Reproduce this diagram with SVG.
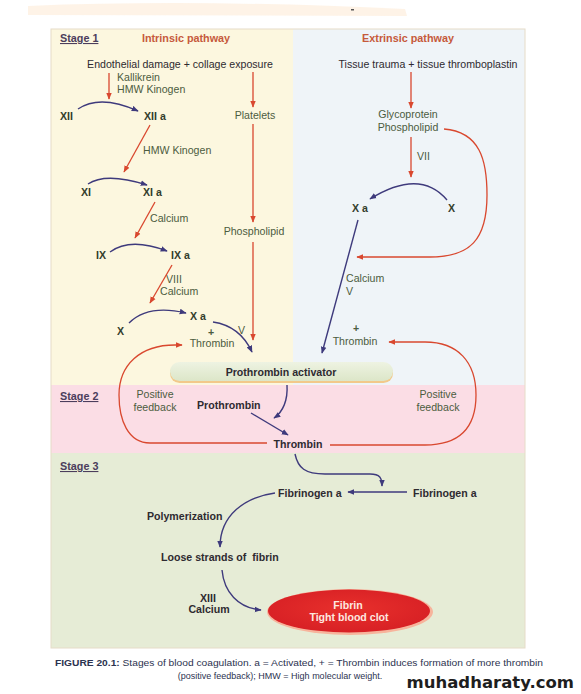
<svg xmlns="http://www.w3.org/2000/svg" width="581" height="694" viewBox="0 0 581 694">
<style>
text{font-family:"Liberation Sans",Arial,sans-serif;font-size:10.6px;fill:#3a3a3a}
.b{font-weight:bold}
.stage{font-weight:bold;font-size:10.8px;fill:#4b3d5c;text-decoration:underline}
.title{font-weight:bold;font-size:10.8px;fill:#c65a3c}
.g{fill:#4c5c40}
.gb{fill:#333d2c;font-weight:bold}
.dk{fill:#2e2a30}
.m{text-anchor:middle}
.red{fill:none;stroke:#d9482f;stroke-width:1.3}
.blue{fill:none;stroke:#3e3a7c;stroke-width:1.4}
.cap{font-size:9px;fill:#2c3350}
</style>
<defs>
<marker id="ar" viewBox="0 0 10 10" refX="9" refY="5" markerWidth="7" markerHeight="7" orient="auto" markerUnits="userSpaceOnUse"><path d="M0,1 L10,5 L0,9 z" fill="#d9482f"/></marker>
<marker id="ab" viewBox="0 0 10 10" refX="9" refY="5" markerWidth="7" markerHeight="7" orient="auto" markerUnits="userSpaceOnUse"><path d="M0,1 L10,5 L0,9 z" fill="#3e3a7c"/></marker>
<linearGradient id="pill" x1="0" y1="0" x2="0" y2="1"><stop offset="0" stop-color="#eef3e2"/><stop offset="1" stop-color="#dce6c8"/></linearGradient>
<radialGradient id="clot" cx="0.5" cy="0.45" r="0.6"><stop offset="0" stop-color="#e8302c"/><stop offset="1" stop-color="#d61f24"/></radialGradient>
</defs>

<g id="background">
<path d="M28,6 Q200,-1 405,9 L407,16 L28,15 Z" fill="#fdeedd" opacity="0.7"/>
<rect x="351" y="9" width="3" height="1.5" fill="#555"/>
<rect x="51" y="29" width="242" height="356" fill="#fcf7df"/>
<rect x="293" y="29" width="232" height="356" fill="#eff4f8"/>
<rect x="51" y="385" width="474" height="68" fill="#fbdde5"/>
<rect x="51" y="453" width="474" height="195" fill="#e6ecd6"/>
<rect x="51" y="29" width="474" height="619" fill="none" stroke="#e6dcc8" stroke-width="1"/>
</g>

<g id="labels">
<text x="60" y="42" class="stage">Stage 1</text>
<text x="186" y="42" class="title m">Intrinsic pathway</text>
<text x="408" y="42" class="title m">Extrinsic pathway</text>
<text x="60" y="400" class="stage">Stage 2</text>
<text x="60" y="470" class="stage">Stage 3</text>
</g>

<g id="n-endothelial"><text x="180" y="68" class="dk m">Endothelial damage + collage exposure</text></g>
<g id="n-kallikrein"><text x="117" y="81" class="g">Kallikrein</text><text x="117" y="93" class="g">HMW Kinogen</text></g>
<g id="n-xii"><text x="60" y="120" class="gb">XII</text></g>
<g id="n-xiia"><text x="144" y="120" class="gb">XII a</text></g>
<g id="n-platelets"><text x="255" y="119" class="g m">Platelets</text></g>
<g id="n-hmw2"><text x="143" y="154" class="g">HMW Kinogen</text></g>
<g id="n-xi"><text x="81" y="196" class="gb">XI</text></g>
<g id="n-xia"><text x="143" y="196" class="gb">XI a</text></g>
<g id="n-calcium1"><text x="150" y="222" class="g">Calcium</text></g>
<g id="n-phospholipid1"><text x="254" y="235" class="g m">Phospholipid</text></g>
<g id="n-ix"><text x="96" y="259" class="gb">IX</text></g>
<g id="n-ixa"><text x="171" y="259" class="gb">IX a</text></g>
<g id="n-viii"><text x="166" y="283" class="g">VIII</text><text x="160" y="295" class="g">Calcium</text></g>
<g id="n-x1"><text x="117" y="335" class="gb">X</text></g>
<g id="n-xa1"><text x="190" y="320" class="gb">X a</text></g>
<g id="n-v1"><text x="238" y="334" class="g">V</text></g>
<g id="n-thrombin1"><text x="211" y="336" class="g m b">+</text><text x="212" y="347" class="g m">Thrombin</text></g>

<g id="n-tissue"><text x="428" y="68" class="dk m">Tissue trauma + tissue thromboplastin</text></g>
<g id="n-glyco"><text x="408" y="118" class="g m">Glycoprotein</text><text x="408" y="131" class="g m">Phospholipid</text></g>
<g id="n-vii"><text x="417" y="160" class="g">VII</text></g>
<g id="n-xa2"><text x="352" y="212" class="gb">X a</text></g>
<g id="n-x2"><text x="448" y="212" class="gb">X</text></g>
<g id="n-calcium-v"><text x="346" y="282" class="g">Calcium</text><text x="346" y="295" class="g">V</text></g>
<g id="n-thrombin2"><text x="356" y="332" class="g m b">+</text><text x="355" y="345" class="g m">Thrombin</text></g>

<g id="n-activator">
<rect x="170" y="364" width="223" height="19" rx="9.5" fill="#f2c98a"/>
<rect x="170" y="362" width="223" height="19" rx="9.5" fill="url(#pill)"/>
<text x="281" y="376" class="b dk m">Prothrombin activator</text>
</g>

<g id="n-feedback-left"><text x="155" y="398" class="g m">Positive</text><text x="155" y="411" class="g m">feedback</text></g>
<g id="n-feedback-right"><text x="438" y="398" class="g m">Positive</text><text x="438" y="411" class="g m">feedback</text></g>
<g id="n-prothrombin"><text x="197" y="409" class="b dk">Prothrombin</text></g>
<g id="n-thrombin3"><text x="298" y="448" class="b dk m">Thrombin</text></g>

<g id="n-fibrinogen-left"><text x="278" y="497" class="b dk">Fibrinogen a</text></g>
<g id="n-fibrinogen-right"><text x="413" y="497" class="b dk">Fibrinogen a</text></g>
<g id="n-polymerization"><text x="147" y="520" class="b dk">Polymerization</text></g>
<g id="n-loose"><text x="161" y="561" class="b dk" xml:space="preserve">Loose strands of  fibrin</text></g>
<g id="n-xiii"><text x="208" y="602" class="b dk m">XIII</text><text x="209" y="613" class="b dk m">Calcium</text></g>
<g id="n-fibrin">
<ellipse cx="350" cy="612" rx="83" ry="23" fill="#f7b49c"/>
<ellipse cx="349" cy="611" rx="81" ry="21.5" fill="url(#clot)"/>
<text x="348" y="609" class="b m" style="fill:#fde8e0">Fibrin</text>
<text x="349" y="621" class="b m" style="fill:#fde8e0">Tight blood clot</text>
</g>

<g id="connectors">
<line x1="109" y1="73" x2="109" y2="99" class="red" marker-end="url(#ar)"/>
<path d="M78,109 Q100,94 138,111" class="blue" marker-end="url(#ab)"/>
<line x1="253" y1="72" x2="253" y2="107" class="red" marker-end="url(#ar)"/>
<line x1="253" y1="124" x2="253" y2="222" class="red" marker-end="url(#ar)"/>
<line x1="253" y1="242" x2="253" y2="340" class="red" marker-end="url(#ar)"/>
<line x1="150" y1="125" x2="124" y2="172" class="red" marker-end="url(#ar)"/>
<path d="M88,184 Q106,172 147,185" class="blue" marker-end="url(#ab)"/>
<line x1="155" y1="202" x2="135" y2="238" class="red" marker-end="url(#ar)"/>
<path d="M110,252 Q130,237 167,251" class="blue" marker-end="url(#ab)"/>
<line x1="172" y1="265" x2="150" y2="303" class="red" marker-end="url(#ar)"/>
<path d="M129,323 Q148,304 186,313" class="blue" marker-end="url(#ab)"/>
<path d="M213,322 Q240,326 252,352" class="blue" marker-end="url(#ab)"/>
<path d="M267,443 L150,443 C128,443 119,420 119,395 C119,365 140,345 175,345 L182,345" class="red" marker-end="url(#ar)"/>

<line x1="411" y1="72" x2="411" y2="108" class="red" marker-end="url(#ar)"/>
<line x1="411" y1="137" x2="411" y2="177" class="red" marker-end="url(#ar)"/>
<path d="M447,200 Q420,168 370,199" class="blue" marker-end="url(#ab)"/>
<path d="M444,129 C480,132 487,160 487,195 C487,240 470,257 430,257 L357,257" class="red" marker-end="url(#ar)"/>
<line x1="358" y1="220" x2="322" y2="353" class="blue" marker-end="url(#ab)"/>
<path d="M330,445 L425,445 C462,445 476,425 476,395 C476,362 458,342 425,342 L389,342" class="red" marker-end="url(#ar)"/>

<path d="M287,385 C288,400 283,412 274,418" class="blue" marker-end="url(#ab)"/>
<line x1="251" y1="413" x2="288" y2="435" class="blue" marker-end="url(#ab)"/>
<path d="M295,454 C298,468 305,474 325,474 L370,474 C380,474 382,478 382,486" class="blue" marker-end="url(#ab)"/>
<line x1="407" y1="492" x2="348" y2="492" class="blue" marker-end="url(#ab)"/>
<path d="M275,493 C245,497 220,515 220,547" class="blue" marker-end="url(#ab)"/>
<path d="M222,570 C224,592 238,608 261,610" class="blue" marker-end="url(#ab)"/>
</g>

<g id="caption">
<text x="55" y="666" class="cap" textLength="488" lengthAdjust="spacingAndGlyphs"><tspan font-weight="bold">FIGURE 20.1:</tspan> Stages of blood coagulation. a = Activated,  + = Thrombin induces formation of more thrombin</text>
<text x="280" y="679" class="cap m">(positive feedback); HMW = High molecular weight.</text>
<text x="574" y="688" style="font-family:'DejaVu Sans',sans-serif;font-size:16.5px;font-weight:bold;fill:#1e1e1e;text-anchor:end">muhadharaty.com</text>
</g>
</svg>
